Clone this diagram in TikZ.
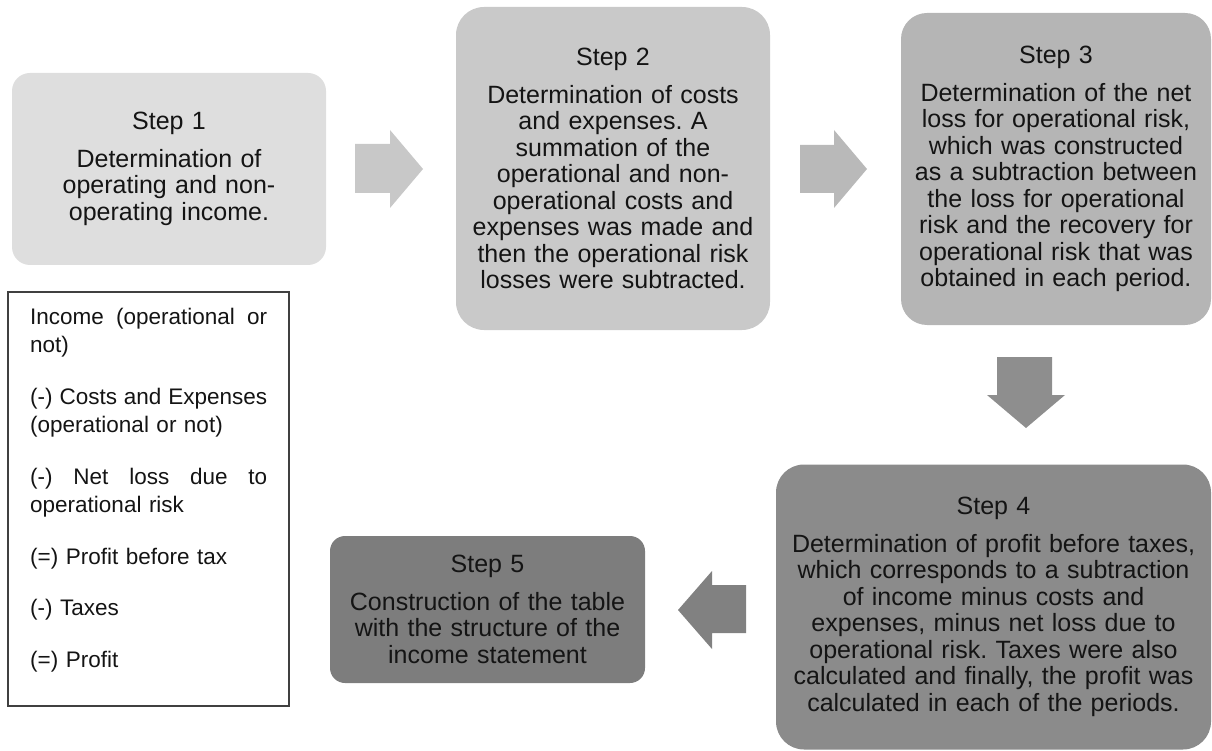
\documentclass[tikz,border=0pt]{standalone}
\usepackage{fontspec}
\setmainfont{Liberation Sans}
\definecolor{cA}{HTML}{DEDEDE}
\definecolor{cB}{HTML}{C9C9C9}
\definecolor{cC}{HTML}{B5B5B5}
\definecolor{cD}{HTML}{8B8B8B}
\definecolor{cE}{HTML}{7D7D7D}
\definecolor{aA}{HTML}{C8C8C8}
\definecolor{aB}{HTML}{B9B9B9}
\definecolor{aC}{HTML}{8E8E8E}
\definecolor{aD}{HTML}{818181}
\definecolor{ink}{HTML}{141414}
\definecolor{frame}{HTML}{404040}
\begin{document}
\begin{tikzpicture}[x=1pt,y=-1pt,
  stepbox/.style={draw=none, align=center, text=ink, inner sep=0pt,
    font=\fontsize{25}{26.5}\selectfont\frenchspacing},
  legframe/.style={draw=frame, line width=1.2pt, inner sep=0pt},
  legtext/.style={align=left, text=ink, inner sep=0pt, text width=237pt,
    font=\fontsize{22.5}{28.5}\selectfont\frenchspacing},
]
\useasboundingbox (0,0) rectangle (1212,751);

% Step boxes
\node[stepbox, fill=cA, rounded corners=18pt, minimum width=314pt, minimum height=192pt, text width=300pt] (s1) at (169,169)
  {Step 1\\[11pt]Determination of\\operating and non-\\operating income.};
\node[stepbox, fill=cB, rounded corners=28pt, minimum width=314pt, minimum height=323pt, text width=300pt] (s2) at (613,168.5)
  {Step 2\\[11pt]Determination of costs\\and expenses. A\\summation of the\\operational and non-\\operational costs and\\expenses was made and\\then the operational risk\\losses were subtracted.};
\node[stepbox, fill=cC, rounded corners=26pt, minimum width=310pt, minimum height=312pt, text width=300pt] (s3) at (1056,169)
  {Step 3\\[11pt]Determination of the net\\loss for operational risk,\\which was constructed\\as a subtraction between\\the loss for operational\\risk and the recovery for\\operational risk that was\\obtained in each period.};
\node[stepbox, fill=cD, rounded corners=28pt, minimum width=435pt, minimum height=285pt, text width=425pt] (s4) at (993.5,607)
  {Step 4\\[11pt]Determination of profit before taxes,\\which corresponds to a subtraction\\of income minus costs and\\expenses, minus net loss due to\\operational risk. Taxes were also\\calculated and finally, the profit was\\calculated in each of the periods.};
\node[stepbox, fill=cE, rounded corners=15pt, minimum width=315pt, minimum height=147pt, text width=305pt] (s5) at (487.5,609.5)
  {Step 5\\[11pt]Construction of the table\\with the structure of the\\income statement};

% Block arrows
\fill[aA] (355,144) -- (390,144) -- (390,130) -- (423,169) -- (390,208) -- (390,193) -- (355,193) -- cycle;
\fill[aB] (800,145) -- (834,145) -- (834,130) -- (867,169) -- (834,208) -- (834,193) -- (800,193) -- cycle;
\fill[aC] (997,357) -- (1052,357) -- (1052,395) -- (1065,395) -- (1026,428) -- (987,395) -- (997,395) -- cycle;
\fill[aD] (746,585) -- (712,585) -- (712,571) -- (678,610) -- (712,649) -- (712,633) -- (746,633) -- cycle;

% Legend box
\node[legframe, minimum width=281pt, minimum height=414pt] (leg) at (148.5,499) {};
\node[legtext, anchor=base west] (legt) at (30,324)
  {Income\hfill(operational\hfill or\\not)\\[23pt]
   \leavevmode\hbox to \linewidth{(-)\hfill Costs\hfill and\hfill Expenses}\\(operational or not)\\[23pt]
   (-)\hfill Net\hfill loss\hfill due\hfill to\\operational risk\\[23pt]
   (=) Profit before tax\\[23pt]
   (-) Taxes\\[23pt]
   (=) Profit};
\end{tikzpicture}
\end{document}
